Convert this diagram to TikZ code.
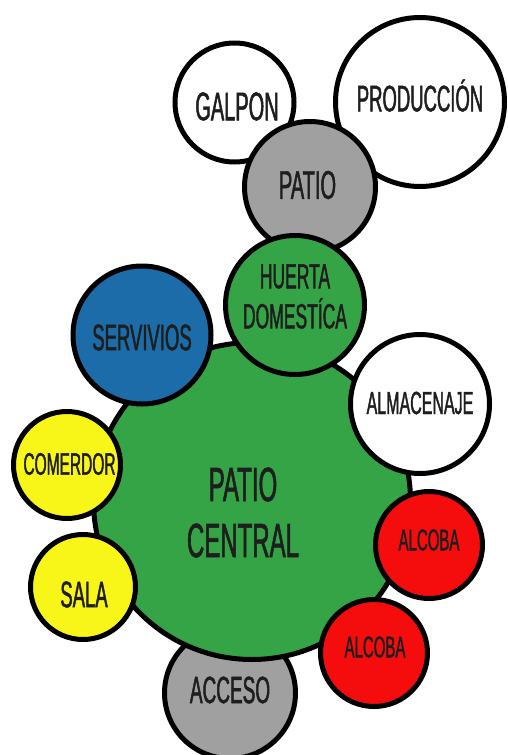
\documentclass[tikz,border=0pt]{standalone}
\usepackage{fontspec}
\usepackage{xcolor}
\usepackage{tikz}
\newfontfamily\agency[FakeStretch=0.5, FakeBold=1.2]{Liberation Sans}
\newcommand{\fsz}[2]{\agency\fontsize{#1}{#2}\selectfont}
\definecolor{huertagreen}{RGB}{53,164,70}
\definecolor{servblue}{RGB}{27,108,168}
\definecolor{salayellow}{RGB}{248,246,24}
\definecolor{alcobared}{RGB}{245,12,12}
\definecolor{patiogray}{RGB}{160,160,160}
\definecolor{inkgray}{RGB}{30,30,30}

\begin{document}
\begin{tikzpicture}[x=1pt, y=-1pt,
    room/.style={circle, draw=black, line width=5pt, inner sep=0pt},
    tag/.style={text=inkgray, inner sep=0pt, align=center}]
    \useasboundingbox (0,0) rectangle (507,755);
    \node[room, fill=white, minimum size=119pt,
      label={[tag, font=\fsz{40}{48}, xshift=2.5pt, yshift=-4pt]center:GALPON}] (galpon) at (234.5,102.5) {};
    \node[room, fill=white, minimum size=169pt,
      label={[tag, font=\fsz{37}{44}, yshift=6.5pt]center:PRODUCCIÓN}] (produccion) at (420,102) {};
    \node[room, fill=patiogray, minimum size=131pt,
      label={[tag, font=\fsz{40}{48}, xshift=-2.5pt, yshift=2pt]center:PATIO}] (patio) at (310,187) {};
    \node[room, fill=patiogray, minimum size=131pt,
      label={[tag, font=\fsz{38}{46}, yshift=3pt]center:ACCESO}] (acceso) at (230,693) {};
    \node[room, fill=huertagreen, minimum size=317pt,
      label={[tag, font=\fsz{48}{56}, xshift=-9pt, yshift=-11.5pt]center:PATIO\\CENTRAL}] (central) at (252,501) {};
    \node[room, fill=huertagreen, minimum size=139pt,
      label={[tag, font=\fsz{35}{40}, yshift=8.5pt]center:HUERTA\\DOMESTÍCA}] (huerta) at (295,305) {};
    \node[room, fill=servblue, minimum size=138pt,
      label={[tag, font=\fsz{37}{44}, yshift=-2.5pt]center:SERVIVIOS}] (servicios) at (142,335) {};
    \node[room, fill=white, minimum size=139pt,
      label={[tag, font=\fsz{32}{38}, yshift=1pt]center:ALMACENAJE}] (almacenaje) at (420,404) {};
    \node[room, fill=salayellow, minimum size=107pt,
      label={[tag, font=\fsz{31}{37}, xshift=2.5pt, yshift=1pt]center:COMERDOR}] (comedor) at (67,465) {};
    \node[room, fill=salayellow, minimum size=105pt,
      label={[tag, font=\fsz{37}{44}, xshift=1pt, yshift=-7.5pt]center:SALA}] (sala) at (83,587) {};
    \node[room, fill=alcobared, minimum size=107pt,
      label={[tag, font=\fsz{30}{36}, yshift=5pt]center:ALCOBA}] (alcobaA) at (429,545) {};
    \node[room, fill=alcobared, minimum size=107pt,
      label={[tag, font=\fsz{30}{36}, xshift=1pt, yshift=6pt]center:ALCOBA}] (alcobaB) at (374,653) {};
\end{tikzpicture}
\end{document}
